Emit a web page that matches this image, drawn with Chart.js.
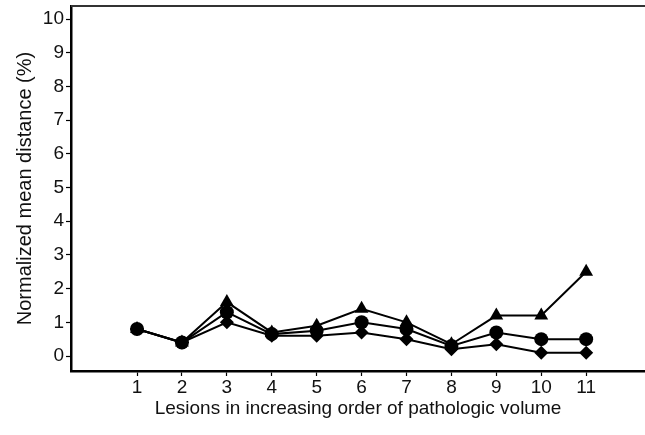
<!DOCTYPE html>
<html>
<head>
<meta charset="utf-8">
<script src="https://cdn.jsdelivr.net/npm/chart.js@4"></script>
<style>
  html, body { margin: 0; padding: 0; background: #fff; overflow: hidden; }
</style>
</head>
<body>
<canvas id="chart" width="645" height="435"></canvas>
<script>
// Lesions 1..11
const lesions = [1, 2, 3, 4, 5, 6, 7, 8, 9, 10, 11];
// Normalized mean distance (%) per series
const triangleSeries = [0.8, 0.4, 1.6, 0.7, 0.9, 1.4, 1.0, 0.35, 1.2, 1.2, 2.5];
const circleSeries   = [0.8, 0.4, 1.3, 0.65, 0.75, 1.0, 0.8, 0.3, 0.7, 0.5, 0.5];
const diamondSeries  = [0.8, 0.4, 1.0, 0.6, 0.6, 0.7, 0.5, 0.2, 0.35, 0.1, 0.1];
const yTicks = [0, 1, 2, 3, 4, 5, 6, 7, 8, 9, 10];

const FONT = 'Liberation Sans, Arial, Helvetica, sans-serif';

function toPoints(vals) {
    return lesions.map((x, i) => ({ x: x, y: vals[i] }));
}

function series(vals, style, radius) {
    return {
        data: toPoints(vals),
        borderColor: '#000',
        backgroundColor: '#000',
        borderWidth: 2,
        pointStyle: style,
        pointRadius: radius,
        pointBorderWidth: 0,
        tension: 0
    };
}

// Top border of the frame
const topBorder = {
    id: 'topBorder',
    afterDraw(chart) {
        const ctx = chart.ctx;
        const a = chart.chartArea;
        ctx.save();
        ctx.strokeStyle = '#333';
        ctx.lineWidth = 2;
        ctx.beginPath();
        ctx.moveTo(a.left, a.top);
        ctx.lineTo(a.right, a.top);
        ctx.stroke();
        ctx.restore();
    }
};

new Chart(document.getElementById('chart'), {
    type: 'line',
    data: {
        datasets: [
            series(triangleSeries, 'triangle', 8),
            series(circleSeries, 'circle', 7),
            series(diamondSeries, 'rectRot', 7)
        ]
    },
    options: {
        responsive: false,
        animation: false,
        layout: { autoPadding: false, padding: { top: 6, right: 0, left: 0, bottom: 0 } },
        plugins: { legend: { display: false }, tooltip: { enabled: false } },
        scales: {
            x: {
                type: 'linear',
                min: -0.47,
                max: 12.31,
                afterBuildTicks: s => { s.ticks = lesions.map(v => ({ value: v })); },
                afterFit: s => { s.height = 64; s.paddingLeft = 0; s.paddingRight = 0; },
                grid: { drawOnChartArea: false, tickLength: 5, color: '#000', tickWidth: 1.2 },
                border: { color: '#000', width: 2.5 },
                ticks: { color: '#111', font: { family: FONT, size: 19 }, padding: 0, maxRotation: 0 },
                title: {
                    display: true,
                    text: 'Lesions in increasing order of pathologic volume',
                    color: '#111',
                    font: { family: FONT, size: 19 },
                    padding: { top: 0, bottom: 15 }
                }
            },
            y: {
                min: -0.445,
                max: 10.39,
                afterBuildTicks: s => { s.ticks = yTicks.map(v => ({ value: v })); },
                afterFit: s => { s.width = 71; s.paddingTop = 0; s.paddingBottom = 0; },
                grid: { drawOnChartArea: false, tickLength: 5, color: '#000', tickWidth: 1.2 },
                border: { color: '#000', width: 2.5 },
                ticks: { color: '#111', font: { family: FONT, size: 19 }, padding: 2 },
                title: {
                    display: true,
                    text: 'Normalized mean distance (%)',
                    color: '#111',
                    font: { family: FONT, size: 20 },
                    padding: { top: 13, bottom: 0 }
                }
            }
        }
    },
    plugins: [topBorder]
});
</script>
</body>
</html>
